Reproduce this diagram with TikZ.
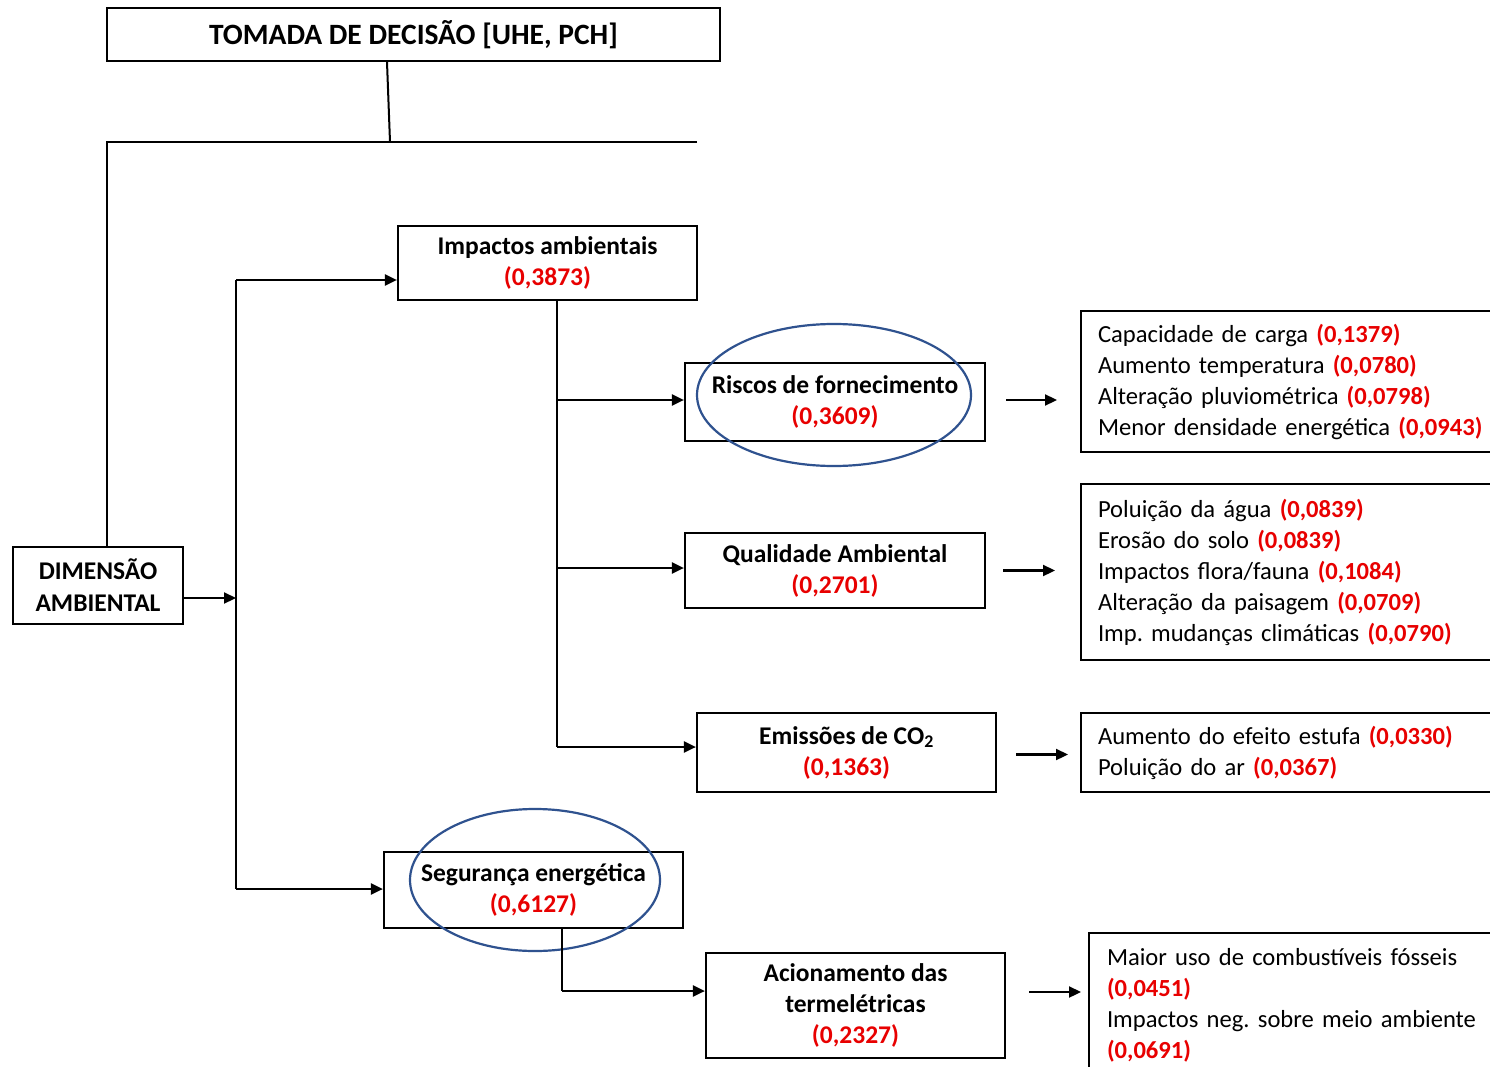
\documentclass[tikz,border=0pt]{standalone}
\usepackage{fontspec}
\setmainfont{Carlito}
\frenchspacing
\usetikzlibrary{arrows.meta,shapes.geometric}
\definecolor{valred}{RGB}{232,0,0}
\definecolor{ringblue}{RGB}{47,82,143}
\begin{document}
\begin{tikzpicture}[x=1pt,y=-1pt,
  box/.style={draw=black,line width=2.2pt,rectangle,inner sep=0pt,align=center,
    font=\fontsize{25.5}{31}\selectfont\bfseries},
  listbox/.style={draw=black,line width=2pt,rectangle,anchor=west,inner xsep=17pt,inner ysep=0pt,
    text width=430pt,align=left,font=\fontsize{24.6}{31}\selectfont},
  ring/.style={draw=ringblue,line width=2.2pt,ellipse,inner sep=0pt},
  conn/.style={line width=2pt},
  arr/.style={line width=2.2pt,-{Triangle[length=12pt,width=11pt]}},
  v/.style={text=valred,font=\fontsize{22}{31}\selectfont\bfseries}]
\clip (0,0) rectangle (1490,1067);
\fill[white] (0,0) rectangle (1490,1067);

% main boxes
\node[box,minimum width=613pt,minimum height=53pt,font=\fontsize{29.5}{31}\selectfont\bfseries] (top) at (413.5,34.5) {TOMADA DE DECISÃO [UHE, PCH]};
\node[box,minimum width=170pt,minimum height=77pt,font=\fontsize{25.5}{32}\selectfont\bfseries] (dim) at (98,585.5) {DIMENSÃO\\AMBIENTAL};
\node[box,minimum width=299pt,minimum height=74pt] (imp) at (547.5,263) {Impactos ambientais\\\textcolor{valred}{(0,3873)}};
\node[box,minimum width=299pt,minimum height=76pt] (seg) at (533.5,890) {Segurança energética\\\textcolor{valred}{(0,6127)}};
\node[box,minimum width=300pt,minimum height=78pt] (ris) at (835,402) {Riscos de fornecimento\\\textcolor{valred}{(0,3609)}};
\node[box,minimum width=300pt,minimum height=75pt] (qual) at (835,570.5) {Qualidade Ambiental\\\textcolor{valred}{(0,2701)}};
\node[box,minimum width=299pt,minimum height=79pt] (emi) at (846.5,752.5) {Emissões de CO\textsubscript{2}\\\textcolor{valred}{(0,1363)}};
\node[box,minimum width=299pt,minimum height=105pt] (acio) at (855.5,1005.5) {Acionamento das\\termelétricas\\\textcolor{valred}{(0,2327)}};

% ellipses
\node[ring,minimum width=274pt,minimum height=142pt] (e1) at (834,395) {};
\node[ring,minimum width=250pt,minimum height=142pt] (e2) at (535,880) {};

% list boxes
\node[listbox,minimum height=141pt] (r1) at (1080,381.5) {Capacidade de carga \textcolor{valred}{\bfseries(0,1379)}\\
Aumento temperatura \textcolor{valred}{\bfseries(0,0780)}\\
Alteração pluviométrica \textcolor{valred}{\bfseries(0,0798)}\\
Menor densidade energética \textcolor{valred}{\bfseries(0,0943)}};
\node[listbox,minimum height=176pt] (r2) at (1080,572) {Poluição da água \textcolor{valred}{\bfseries(0,0839)}\\
Erosão do solo \textcolor{valred}{\bfseries(0,0839)}\\
Impactos flora/fauna \textcolor{valred}{\bfseries(0,1084)}\\
Alteração da paisagem \textcolor{valred}{\bfseries(0,0709)}\\
Imp. mudanças climáticas \textcolor{valred}{\bfseries(0,0790)}};
\node[listbox,minimum height=79pt] (r3) at (1080,752.5) {Aumento do efeito estufa \textcolor{valred}{\bfseries(0,0330)}\\
Poluição do ar \textcolor{valred}{\bfseries(0,0367)}};
\node[listbox,minimum height=145pt,inner xsep=18pt] (r4) at (1088,1005.5) {Maior uso de combustíveis fósseis\\
\textcolor{valred}{\bfseries(0,0451)}\\
Impactos neg. sobre meio ambiente\\
\textcolor{valred}{\bfseries(0,0691)}};

% coordinates
\coordinate (busL) at (107,142);
\coordinate (busR) at (697,142);
\coordinate (busT) at (390,142);
\coordinate (trT) at (236,280);
\coordinate (trB) at (236,889);
\coordinate (j0) at (557,300);
\coordinate (j1) at (557,400);
\coordinate (j2) at (557,568);
\coordinate (j3) at (557,747);
\coordinate (k0) at (562,928);
\coordinate (k1) at (562,991);

% connectors
\draw[conn] ([xshift=-26.5pt]top.south) -- (busT);
\draw[conn] (busR) -- (busL) -- (busL |- dim.north);
\draw[arr] ([yshift=-12.5pt]dim.east) -- ([yshift=-12.5pt]dim.east -| trT);
\draw[conn] (trT) -- (trB);
\draw[arr] (trT) -- (imp.west |- trT);
\draw[arr] (trB) -- (seg.west |- trB);
\draw[conn] (j0) -- (j3);
\draw[arr] (j1) -- (ris.west |- j1);
\draw[arr] (j2) -- (qual.west |- j2);
\draw[arr] (j3) -- (emi.west |- j3);
\draw[conn] (k0) -- (k1);
\draw[arr] (k1) -- (acio.west |- k1);

\draw[arr,shorten <=20pt,shorten >=23pt] ([yshift=2pt]ris.east) -- ([yshift=2pt]ris.east -| r1.west);
\draw[arr,shorten <=17pt,shorten >=25pt] (qual.east) -- (qual.east -| r2.west);
\draw[arr,shorten <=19pt,shorten >=12pt] ([yshift=-2pt]emi.east) -- ([yshift=-2pt]emi.east -| r3.west);
\draw[arr,shorten <=23pt,shorten >=7pt] ([yshift=13.5pt]acio.east) -- ([yshift=13.5pt]acio.east -| r4.west);
\end{tikzpicture}
\end{document}
